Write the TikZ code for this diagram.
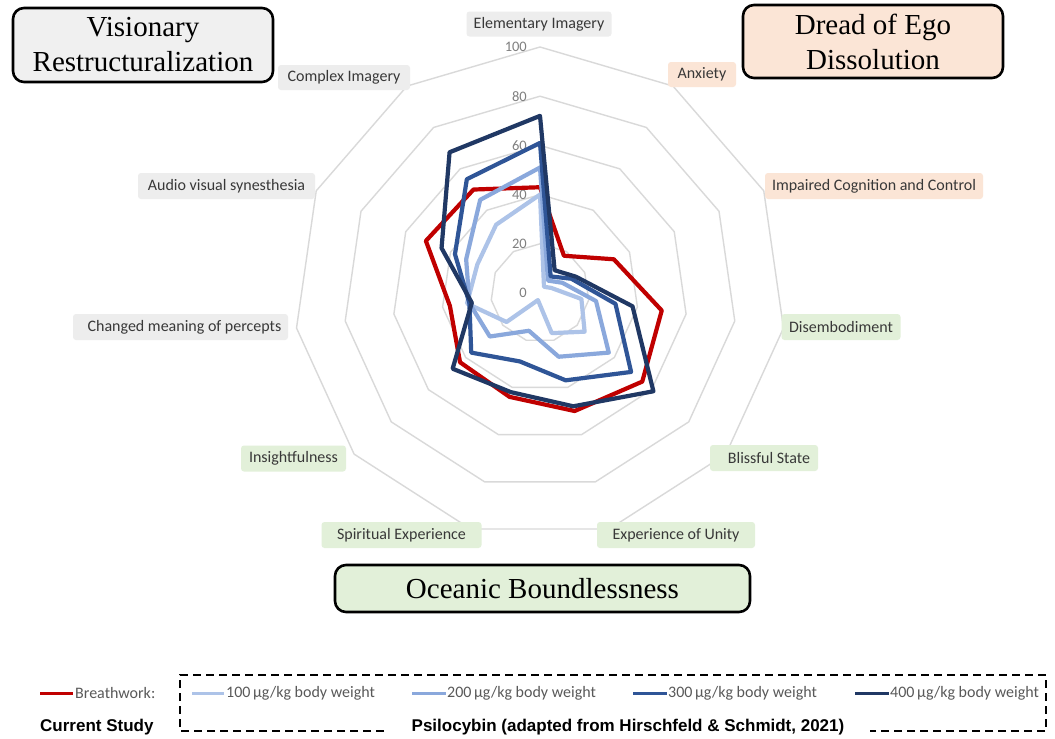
\documentclass[tikz,border=0pt]{standalone}
\usepackage{fontspec}
\setmainfont{Carlito}
\newfontfamily\tnr{Liberation Serif}
\newfontfamily\arl{Liberation Sans}
\definecolor{gridc}{HTML}{D9D9D9}
\definecolor{txtc}{HTML}{383838}
\definecolor{tickc}{HTML}{7F7F7F}
\definecolor{legc}{HTML}{595959}
\definecolor{gbox}{HTML}{EDEDED}
\definecolor{gtitle}{HTML}{F0F0F0}
\definecolor{pbox}{HTML}{FBE5D6}
\definecolor{nbox}{HTML}{E2F0D9}
\definecolor{cred}{HTML}{C00000}
\definecolor{cone}{HTML}{ADC3E8}
\definecolor{ctwo}{HTML}{8AA8DC}
\definecolor{cthree}{HTML}{2F5597}
\definecolor{cfour}{HTML}{203864}
\newcommand\defpt[3]{\coordinate (#1) at ({540+2.46*(#3)*sin((#2)*32.72727)},{293-2.46*(#3)*cos((#2)*32.72727)});}
\newcommand\radarseries[3]{%
  \foreach \v [count=\k from 0] in {#3} {\defpt{#1\k}{\k}{\v}}
  \draw[#2] (#10) -- (#11) -- (#12) -- (#13) -- (#14) -- (#15) -- (#16) -- (#17) -- (#18) -- (#19) -- (#110) -- cycle;}
\begin{document}
\begin{tikzpicture}[x=1pt,y=-1pt,
  gridline/.style={draw=gridc, line width=1.4pt, line join=round},
  axlbl/.style={rounded corners=3pt, inner sep=0pt, text=txtc, font=\fontsize{16}{19}\selectfont, minimum height=26pt},
  ticklbl/.style={anchor=east, inner sep=0pt, text=tickc, font=\fontsize{14.5}{17}\selectfont},
  titlebox/.style={draw=black, line width=2.6pt, rounded corners=11pt, inner sep=0pt, align=center, font=\tnr\fontsize{29}{35}\selectfont},
  ser/.style={line width=4.2pt, line join=round},
  legtxt/.style={anchor=west, inner sep=0pt, text=legc, font=\fontsize{16}{19}\selectfont},
  legline/.style={line width=3pt},
  boldtxt/.style={inner sep=0pt, font=\arl\bfseries\fontsize{17}{20}\selectfont},
  dashbox/.style={line width=1.6pt, dash pattern=on 8pt off 5pt}]
\useasboundingbox (0,0) rectangle (1055,739);
\fill[white] (0,0) rectangle (1055,739);
% grid rings
\foreach \r in {20,40,60,80,100}{
  \foreach \k in {0,...,10}{\defpt{g\r-\k}{\k}{\r}}
  \draw[gridline] (g\r-0) -- (g\r-1) -- (g\r-2) -- (g\r-3) -- (g\r-4) -- (g\r-5) -- (g\r-6) -- (g\r-7) -- (g\r-8) -- (g\r-9) -- (g\r-10) -- cycle;
}
% tick labels
\foreach \t in {0,20,40,60,80,100}{\node[ticklbl] (tk\t) at (527,{293-2.46*\t}) {\t};}
% axis labels
\node[axlbl, fill=gbox, minimum width=145pt, minimum height=25pt] (el) at (539,24) {Elementary Imagery};
\node[axlbl, fill=pbox, minimum width=68pt, minimum height=25pt] (anx) at (702,74.5) {Anxiety};
\node[axlbl, fill=pbox, minimum width=218pt] (imp) at (874,186) {Impaired Cognition and Control};
\node[axlbl, fill=nbox, minimum width=119pt] (dis) at (841,327) {Disembodiment};
\node[axlbl, fill=nbox, minimum width=108pt] (bli) at (764,458) {\hspace{10pt}Blissful State};
\node[axlbl, fill=nbox, minimum width=158pt] (uni) at (676,535) {Experience of Unity};
\node[axlbl, fill=nbox, minimum width=160pt] (spi) at (401.5,535) {Spiritual Experience};
\node[axlbl, fill=nbox, minimum width=105pt] (ins) at (293.5,458.5) {Insightfulness};
\node[axlbl, fill=gbox, minimum width=215pt] (chg) at (180.5,327) {\hspace{8pt}Changed meaning of percepts};
\node[axlbl, fill=gbox, minimum width=177pt] (aud) at (226.5,186) {Audio visual synesthesia};
\node[axlbl, fill=gbox, minimum width=132pt, minimum height=25pt] (cpx) at (344,77.5) {Complex Imagery};
% data series
\radarseries{r}{ser, draw=cred}{43,18,33,50,55,50,44,43,37,51,50}
\radarseries{a}{ser, draw=cone}{40,3,5,17,24,17,3,18,30,28,33}
\radarseries{b}{ser, draw=ctwo}{51,6,10,23,37,27,16,27,29,33,45}
\radarseries{c}{ser, draw=cthree}{61,8,14,31,49,37,29,37,29,38,55}
\radarseries{d}{ser, draw=cfour}{72,11,16,38,61,48,42,47,28,44,68}
% title boxes
\node[titlebox, fill=gtitle, minimum width=260pt, minimum height=74pt] (vis) at (143,45) {Visionary\\Restructuralization};
\node[titlebox, fill=pbox, minimum width=260pt, minimum height=73pt] (dread) at (873,41.5) {Dread of Ego\\Dissolution};
\node[titlebox, fill=nbox, minimum width=415pt, minimum height=47pt] (ocean) at (542.5,588.5) {Oceanic Boundlessness};
% legend
\coordinate (lr1) at (40,693); \coordinate (lr2) at (73,693);
\draw[legline, draw=cred] (lr1) -- (lr2);
\node[legtxt] (lbr) at (75,693) {Breathwork:};
\coordinate (la1) at (192,693); \coordinate (la2) at (224,693);
\draw[legline, draw=cone] (la1) -- (la2);
\node[legtxt] (l100) at (226,693) {100\,µg/kg body weight};
\coordinate (lb1) at (412,693); \coordinate (lb2) at (446,693);
\draw[legline, draw=ctwo] (lb1) -- (lb2);
\node[legtxt] (l200) at (447,693) {200\,µg/kg body weight};
\coordinate (lc1) at (633,693); \coordinate (lc2) at (667,693);
\draw[legline, draw=cthree] (lc1) -- (lc2);
\node[legtxt] (l300) at (668,693) {300\,µg/kg body weight};
\coordinate (ld1) at (855,693); \coordinate (ld2) at (889,693);
\draw[legline, draw=cfour] (ld1) -- (ld2);
\node[legtxt] (l400) at (890,693) {400\,µg/kg body weight};
\node[boldtxt, anchor=west] (cur) at (40,727) {Current Study};
\node[boldtxt] (psi) at (628,727) {Psilocybin (adapted from Hirschfeld \& Schmidt, 2021)};
% dashed frame
\coordinate (f1) at (180,675); \coordinate (f2) at (1046,675);
\coordinate (f3) at (1046,731); \coordinate (f4) at (180,731);
\coordinate (f5) at (384,731); \coordinate (f6) at (870,731);
\draw[dashbox] (f5) -- (f4) -- (f1) -- (f2) -- (f3) -- (f6);
\end{tikzpicture}
\end{document}
